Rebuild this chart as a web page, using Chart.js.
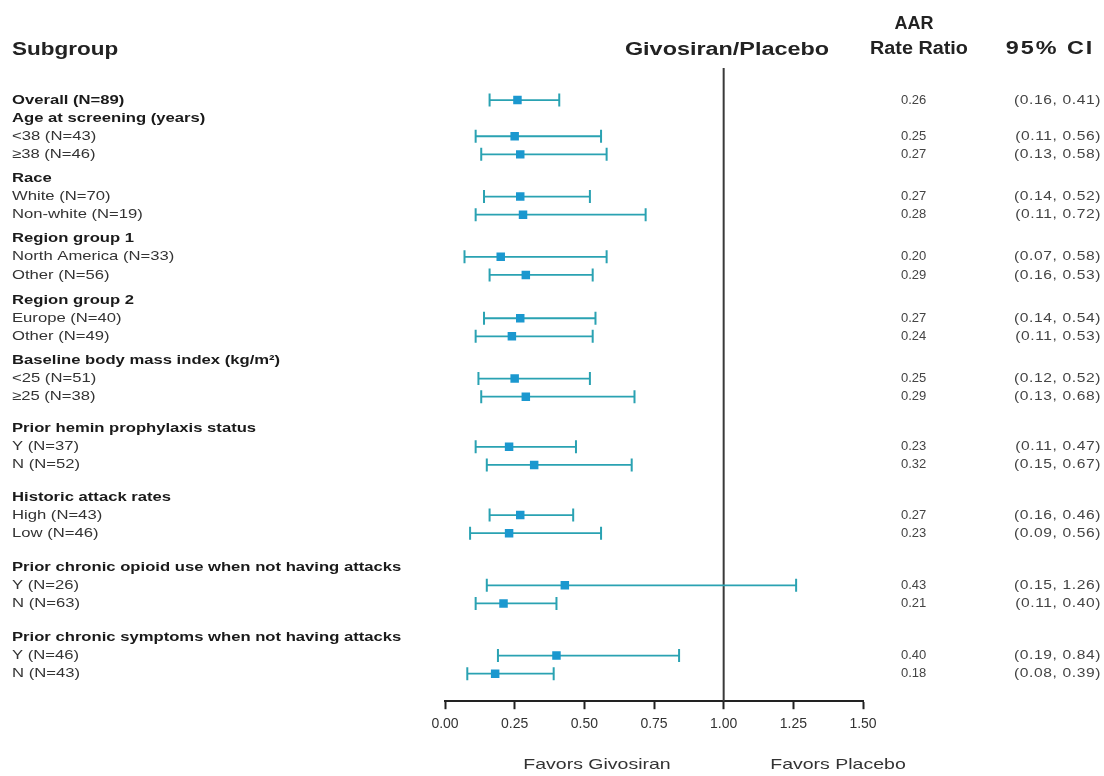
<!DOCTYPE html>
<html>
<head>
<meta charset="utf-8">
<script src="https://cdn.jsdelivr.net/npm/chart.js@4/dist/chart.umd.min.js"></script>
<style>
  html, body { margin: 0; padding: 0; background: #fff; }
  #wrap { width: 1104px; height: 776px; position: relative; }
</style>
</head>
<body>
<div id="wrap"><canvas id="forest"></canvas></div>
<script>
// Forest plot — AAR rate ratio by subgroup (Givosiran/Placebo)

const subgroups = [
  'Overall (N=89)',
  'Age at screening (years)', '<38 (N=43)', '\u226538 (N=46)',
  'Race', 'White (N=70)', 'Non-white (N=19)',
  'Region group 1', 'North America (N=33)', 'Other (N=56)',
  'Region group 2', 'Europe (N=40)', 'Other (N=49)',
  'Baseline body mass index (kg/m\u00b2)', '<25 (N=51)', '\u226525 (N=38)',
  'Prior hemin prophylaxis status', 'Y (N=37)', 'N (N=52)',
  'Historic attack rates', 'High (N=43)', 'Low (N=46)',
  'Prior chronic opioid use when not having attacks', 'Y (N=26)', 'N (N=63)',
  'Prior chronic symptoms when not having attacks', 'Y (N=46)', 'N (N=43)'
];

// null = group header row (no estimate)
const rateRatio = [0.26, null, 0.25, 0.27, null, 0.27, 0.28, null, 0.20, 0.29, null, 0.27, 0.24,
  null, 0.25, 0.29, null, 0.23, 0.32, null, 0.27, 0.23, null, 0.43, 0.21, null, 0.40, 0.18];
const ciLower = [0.16, null, 0.11, 0.13, null, 0.14, 0.11, null, 0.07, 0.16, null, 0.14, 0.11,
  null, 0.12, 0.13, null, 0.11, 0.15, null, 0.16, 0.09, null, 0.15, 0.11, null, 0.19, 0.08];
const ciUpper = [0.41, null, 0.56, 0.58, null, 0.52, 0.72, null, 0.58, 0.53, null, 0.54, 0.53,
  null, 0.52, 0.68, null, 0.47, 0.67, null, 0.46, 0.56, null, 1.26, 0.40, null, 0.84, 0.39];

const xTicks = [0, 0.25, 0.5, 0.75, 1.0, 1.25, 1.5];

// extra vertical space before each group header
const headerGap = [0, 0.33, 0.33, 0.39, 0.33, 0.77, 0.77, 0.88, 0.88];

const LINE = '#2aa2b2';
const MARK = '#1b98cf';
const FONT = '"Liberation Sans", Arial, sans-serif';

// row positions on the y scale
const rowPos = [];
let cursor = 0, hdr = 0;
subgroups.forEach((s, i) => {
  if (i > 0) {
    cursor += 1;
    if (rateRatio[i] === null) cursor += headerGap[hdr++];
  }
  rowPos.push(cursor);
});

const whiskers = [], caps = [], points = [];
rateRatio.forEach((v, i) => {
  if (v === null) return;
  whiskers.push({ x: ciLower[i], y: rowPos[i] }, { x: ciUpper[i], y: rowPos[i] }, { x: null, y: null });
  caps.push({ x: ciLower[i], y: rowPos[i] }, { x: ciUpper[i], y: rowPos[i] });
  points.push({ x: v, y: rowPos[i] });
});

function drawText(ctx, text, x, y, font, opts = {}) {
  ctx.save();
  ctx.font = font;
  ctx.fillStyle = opts.color || '#222';
  ctx.textBaseline = opts.baseline || 'middle';
  ctx.letterSpacing = opts.spacing || '0px';
  const sx = opts.sx || 1;
  const w = ctx.measureText(text).width * sx;
  let left = x;
  if (opts.align === 'center') left = x - w / 2;
  if (opts.align === 'right') left = x - w;
  ctx.translate(left, y);
  ctx.scale(sx, 1);
  ctx.textAlign = 'left';
  ctx.fillText(text, 0, 0);
  ctx.restore();
}

const refLine = {
  id: 'refLine',
  beforeDatasetsDraw(chart) {
    const { ctx, chartArea, scales } = chart;
    const x = scales.x.getPixelForValue(1);
    ctx.save();
    ctx.strokeStyle = '#3a3a3a';
    ctx.lineWidth = 2;
    ctx.beginPath();
    ctx.moveTo(x, chartArea.top);
    ctx.lineTo(x, chartArea.bottom);
    ctx.stroke();
    ctx.restore();
  }
};

const tableText = {
  id: 'tableText',
  afterDraw(chart) {
    const { ctx, scales } = chart;
    const y = scales.y;

    // column headers
    drawText(ctx, 'Subgroup', 12, 55, `bold 18px ${FONT}`, { baseline: 'alphabetic', sx: 1.25 });
    drawText(ctx, 'Givosiran/Placebo', 727, 55, `bold 18px ${FONT}`, { baseline: 'alphabetic', sx: 1.3, align: 'center' });
    drawText(ctx, 'AAR', 914, 29, `bold 18px ${FONT}`, { baseline: 'alphabetic', align: 'center' });
    drawText(ctx, 'Rate Ratio', 919, 54, `bold 18px ${FONT}`, { baseline: 'alphabetic', sx: 1.1, align: 'center' });
    drawText(ctx, '95% CI', 1050, 54, `bold 18px ${FONT}`, { baseline: 'alphabetic', sx: 1.3, spacing: '1.5px', align: 'center' });

    subgroups.forEach((label, i) => {
      const py = y.getPixelForValue(rowPos[i]);
      const bold = rateRatio[i] === null || i === 0;
      drawText(ctx, label, 12, py, `${bold ? 'bold ' : ''}13px ${FONT}`,
        { sx: 1.28, color: bold ? '#1a1a1a' : '#333' });
      if (rateRatio[i] !== null) {
        drawText(ctx, rateRatio[i].toFixed(2), 901, py, `13px ${FONT}`, { color: '#444' });
        drawText(ctx, `(${ciLower[i].toFixed(2)}, ${ciUpper[i].toFixed(2)})`, 1101, py, `13px ${FONT}`,
          { color: '#444', sx: 1.2, spacing: '0.5px', align: 'right' });
      }
    });

    drawText(ctx, 'Favors Givosiran', 597, 765, `15px ${FONT}`, { sx: 1.3, align: 'center', color: '#333' });
    drawText(ctx, 'Favors Placebo', 838, 765, `15px ${FONT}`, { sx: 1.3, align: 'center', color: '#333' });
  }
};

new Chart(document.getElementById('forest'), {
  type: 'scatter',
  data: {
    datasets: [
      {
        label: 'Rate ratio',
        data: points,
        pointStyle: 'rect',
        pointRadius: 6,
        backgroundColor: MARK,
        borderWidth: 0,
        order: 0
      },
      {
        label: 'CI caps',
        data: caps,
        pointStyle: 'line',
        rotation: 90,
        pointRadius: 6.5,
        borderColor: LINE,
        borderWidth: 2,
        order: 1
      },
      {
        label: '95% CI',
        data: whiskers,
        showLine: true,
        spanGaps: false,
        pointRadius: 0,
        borderColor: LINE,
        borderWidth: 1.8,
        order: 2
      }
    ]
  },
  options: {
    responsive: true,
    maintainAspectRatio: false,
    animation: false,
    layout: { padding: { left: 445, right: 241, top: 68, bottom: 36 } },
    plugins: {
      legend: { display: false },
      tooltip: { enabled: false }
    },
    scales: {
      x: {
        type: 'linear',
        min: 0,
        max: 1.5,
        afterBuildTicks: axis => { axis.ticks = xTicks.map(v => ({ value: v })); },
        ticks: {
          padding: 7,
          color: '#333',
          font: { family: FONT, size: 14 },
          callback: v => Number(v).toFixed(2)
        },
        grid: {
          drawOnChartArea: false,
          drawTicks: true,
          tickLength: 8,
          tickWidth: 2,
          tickColor: '#222'
        },
        border: { display: true, color: '#222', width: 2 }
      },
      y: {
        type: 'linear',
        display: false,
        reverse: true,
        min: -1.77,
        max: 33.2
      }
    }
  },
  plugins: [refLine, tableText]
});
</script>
</body>
</html>
